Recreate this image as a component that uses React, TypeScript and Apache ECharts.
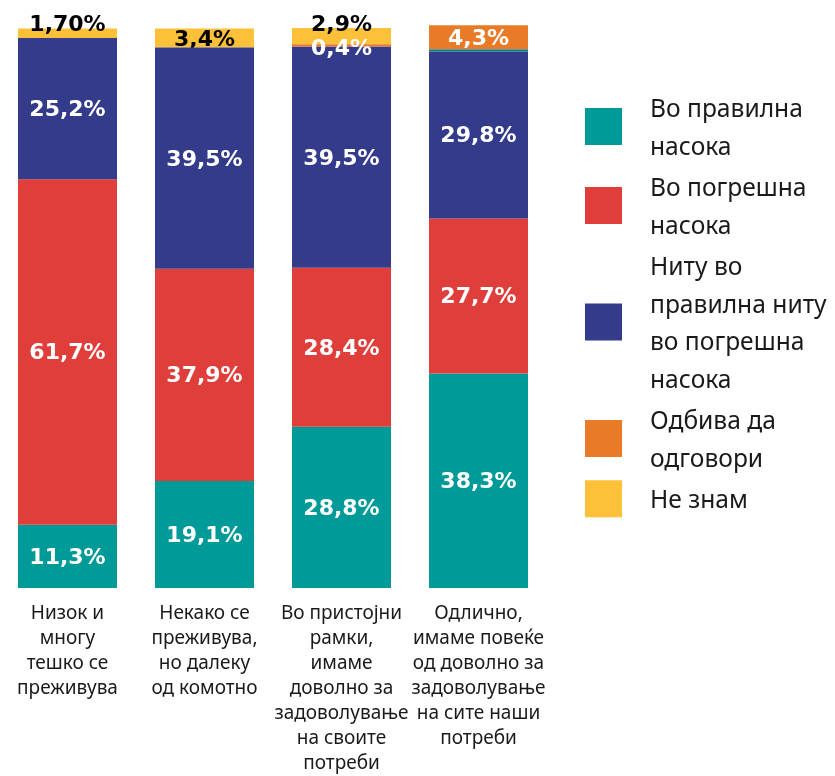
import React, { useEffect, useRef } from "react";
import * as echarts from "echarts";

const categories = [
  "Низок и\nмногу\nтешко се\nпреживува",
  "Некако се\nпреживува,\nно далеку\nод комотно",
  "Во пристојни\nрамки,\nимаме\nдоволно за\nзадоволување\nна своите\nпотреби",
  "Одлично,\nимаме повеќе\nод доволно за\nзадоволување\nна сите наши\nпотреби",
];
const seriesNames = [
  "Во правилна насока",
  "Во погрешна насока",
  "Ниту во правилна ниту во погрешна насока",
  "Одбива да одговори",
  "Не знам",
];
const legendLabels = [
  "Во правилна\nнасока",
  "Во погрешна\nнасока",
  "Ниту во\nправилна ниту\nво погрешна\nнасока",
  "Одбива да\nодговори",
  "Не знам",
];
const rightDirection = [11.3, 19.1, 28.8, 38.3];
const wrongDirection = [61.7, 37.9, 28.4, 27.7];
const neither = [25.2, 39.5, 39.5, 29.8];
const unlabeledStrip = [null, null, null, 0.4];
const refuse = [null, null, 0.4, 4.3];
const dontKnow = [1.7, 3.4, 2.9, null];
const labelTexts = [
  ["11,3%", "19,1%", "28,8%", "38,3%"],
  ["61,7%", "37,9%", "28,4%", "27,7%"],
  ["25,2%", "39,5%", "39,5%", "29,8%"],
  ["", "", "0,4%", "4,3%"],
  ["1,70%", "3,4%", "2,9%", ""],
];
const colors = ["#009a98", "#e03e3b", "#343b8b", "#e87a28", "#fdc039"];

export default function App() {
  const ref = useRef<HTMLDivElement>(null);
  useEffect(() => {
    if (!ref.current) return;
    const chart = echarts.init(ref.current, undefined, { renderer: "svg" });
    const font = "'Noto Sans', sans-serif";
    const baseLabel = {
      show: true,
      position: "inside",
      color: "#ffffff",
      fontFamily: "'DejaVu Sans', sans-serif",
      fontWeight: "bold",
      fontSize: 22,
    };
    const mk = (vals: (number | null)[], idx: number) =>
      vals.map((v, i) => {
        const item: any = { value: v };
        const txt = labelTexts[idx][i];
        item.label = { formatter: txt };
        if (idx === 4) {
          item.label.color = "#000000";
          if (i === 0) item.label.offset = [0, -10];
          if (i === 2) item.label.offset = [0, -13];
        }
        if (idx === 3 && i === 2) item.label.offset = [0, 2];
        return item;
      });
    const dataSets = [rightDirection, wrongDirection, neither, refuse, dontKnow];
    const series: any[] = [];
    dataSets.forEach((vals, idx) => {
      series.push({
        name: seriesNames[idx],
        type: "bar",
        stack: "total",
        barWidth: 99,
        clip: false,
        itemStyle: { color: colors[idx] },
        label: baseLabel,
        data: mk(vals, idx),
        z: idx === 4 ? 1 : 2,
      });
      if (idx === 2) {
        series.push({
          name: "strip",
          type: "bar",
          stack: "total",
          barWidth: 99,
          clip: false,
          itemStyle: { color: "#00808a" },
          label: { show: false },
          data: unlabeledStrip,
        });
      }
    });
    chart.setOption({
      animation: false,
      legend: {
        orient: "vertical",
        left: 580,
        top: 84,
        data: seriesNames,
        itemWidth: 37,
        itemHeight: 37,
        itemGap: 4,
        icon: "rect",
        formatter: (name: string) => legendLabels[seriesNames.indexOf(name)],
        textStyle: {
          fontFamily: font,
          fontSize: 24.6,
          lineHeight: 37.5,
          color: "#1a1a1a",
          padding: [0, 0, 0, 23],
        },
      },
      grid: {
        left: -1,
        top: 28,
        width: 548,
        height: 560,
        outerBoundsMode: "none",
        containLabel: false,
      },
      xAxis: {
        type: "category",
        data: categories,
        axisLine: { show: false },
        axisTick: { show: false },
        axisLabel: {
          interval: 0,
          margin: 11,
          fontFamily: font,
          fontSize: 19,
          lineHeight: 25,
          color: "#1a1a1a",
          verticalAlign: "top",
        },
      },
      yAxis: {
        type: "value",
        min: 0,
        max: 100,
        show: false,
        splitLine: { show: false },
      },
      series,
    });
    return () => chart.dispose();
  }, []);
  return (
    <div
      ref={ref}
      style={{ position: "fixed", left: 0, top: 0, width: 835, height: 776 }}
    />
  );
}
